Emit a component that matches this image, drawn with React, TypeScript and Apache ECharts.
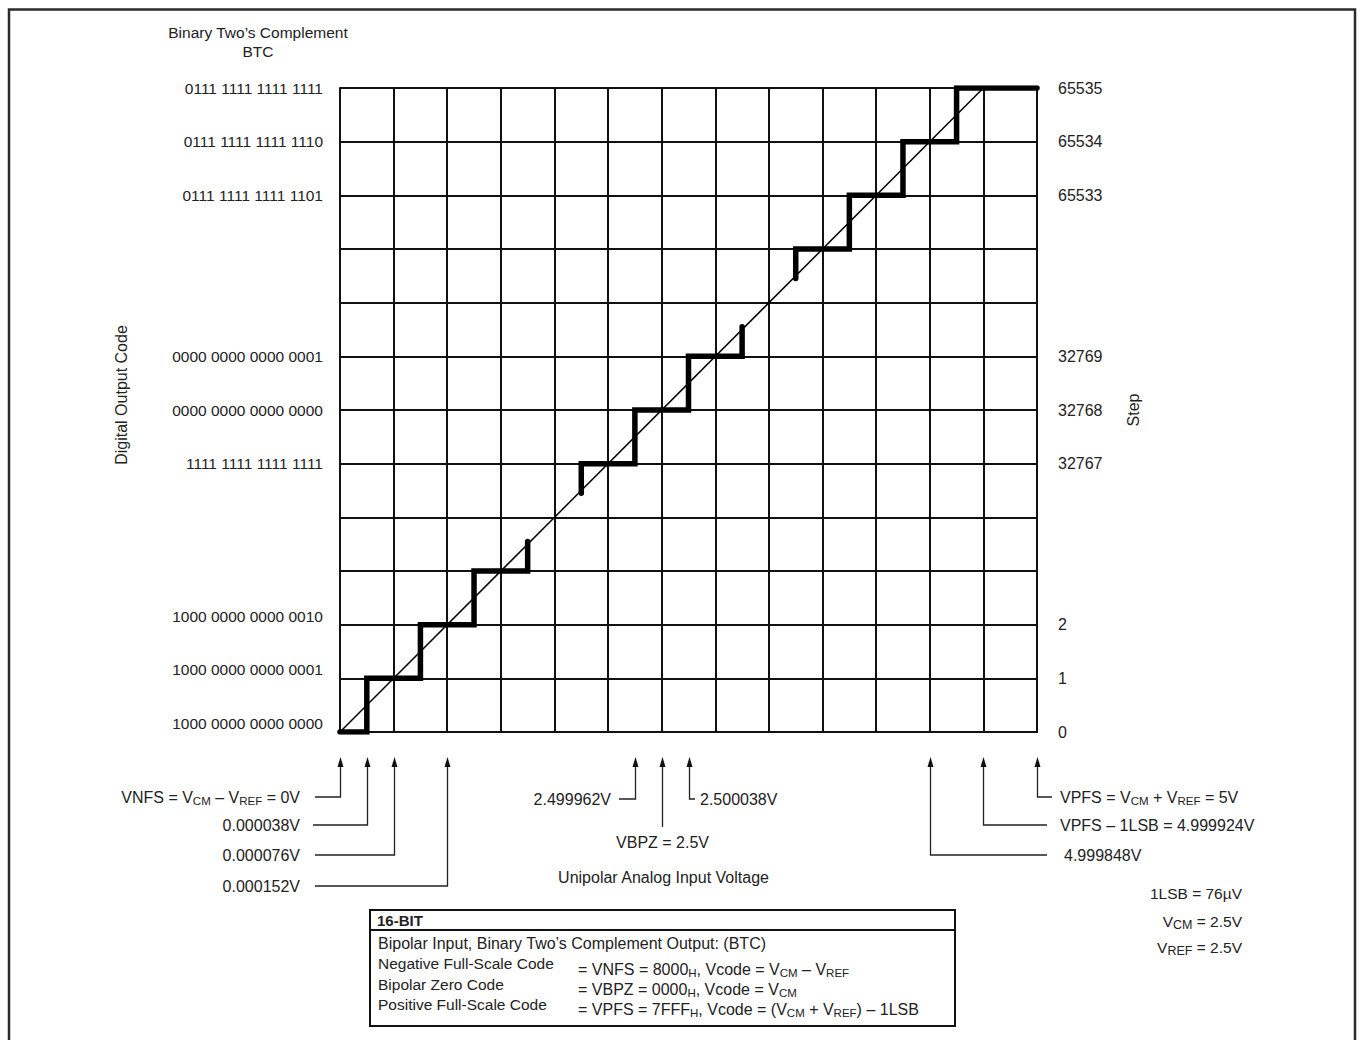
import React, { useEffect, useRef } from 'react';
import * as echarts from 'echarts';

// ---- data ----
const leftCodes = [
  '1000 0000 0000 0000', '1000 0000 0000 0001', '1000 0000 0000 0010', '', '',
  '1111 1111 1111 1111', '0000 0000 0000 0000', '0000 0000 0000 0001', '', '',
  '0111 1111 1111 1101', '0111 1111 1111 1110', '0111 1111 1111 1111',
];
const stepCodes = ['0', '1', '2', '', '', '32767', '32768', '32769', '', '', '65533', '65534', '65535'];
const raisedRows = [0, 1, 2];

const idealLine = [[0, 0], [12, 12]];
const stairLow = [[0, 0], [0.5, 0], [0.5, 1], [1.5, 1], [1.5, 2], [2.5, 2], [2.5, 3], [3.5, 3], [3.5, 3.55]];
const stairMid = [[4.5, 4.45], [4.5, 5], [5.5, 5], [5.5, 6], [6.5, 6], [6.5, 7], [7.5, 7], [7.5, 7.55]];
const stairHigh = [[8.5, 8.45], [8.5, 9], [9.5, 9], [9.5, 10], [10.5, 10], [10.5, 11], [11.5, 11], [11.5, 12], [13, 12]];

const voltageMarks = [0, 0.5, 1, 2, 5.5, 6, 6.5, 11, 12, 13];
const voltageLabels = [
  'VNFS = V{s|CM} – V{s|REF} = 0V',
  '0.000038V',
  '0.000076V',
  '0.000152V',
  '2.499962V',
  'VBPZ = 2.5V',
  '2.500038V',
  '4.999848V',
  'VPFS – 1LSB = 4.999924V',
  'VPFS = V{s|CM} + V{s|REF} = 5V',
];
const constantLabels = ['1LSB = 76µV', 'V{s|CM} = 2.5V', 'V{s|REF} = 2.5V'];

const titleText = 'Binary Two’s Complement\nBTC';
const yNameLeft = 'Digital Output Code';
const yNameRight = 'Step';
const xName = 'Unipolar Analog Input Voltage';

const boxTitle = '16-BIT';
const boxHeading = 'Bipolar Input, Binary Two’s Complement Output: (BTC)';
const codeNames = ['Negative Full-Scale Code', 'Bipolar Zero Code', 'Positive Full-Scale Code'];
const codeDefs = [
  '= VNFS = 8000{s|H}, Vcode = V{s|CM} – V{s|REF}',
  '= VBPZ = 0000{s|H}, Vcode = V{s|CM}',
  '= VPFS = 7FFF{s|H}, Vcode = (V{s|CM} + V{s|REF}) – 1LSB',
];

// ---- layout / style ----
const FONT = '"Liberation Sans", Arial, Helvetica, sans-serif';
const TXT = '#222';
const GRID = '#111';

const markLayout = [
  { elbowY: 797, toX: 315, textX: 300, align: 'right' },
  { elbowY: 825, toX: 313, textX: 300, align: 'right' },
  { elbowY: 855, toX: 315, textX: 300, align: 'right' },
  { elbowY: 886, toX: 315, textX: 300, align: 'right' },
  { elbowY: 799, toX: 619, textX: 611, align: 'right' },
  { elbowY: 827, toX: null, textX: null, align: 'center', textY: 842 },
  { elbowY: 799, toX: 695, textX: 700, align: 'left' },
  { elbowY: 855, toX: 1047, textX: 1064, align: 'left' },
  { elbowY: 825, toX: 1047, textX: 1060, align: 'left' },
  { elbowY: 797, toX: 1052, textX: 1060, align: 'left' },
];

const subRich = {
  s: { fontSize: 11.5, lineHeight: 11, verticalAlign: 'bottom', fontFamily: FONT, fill: TXT },
};
const subRichLarge = {
  s: { fontSize: 12.5, lineHeight: 9, verticalAlign: 'bottom', fontFamily: FONT, fill: TXT },
};

function txt(text: string, x: number, y: number, align: string, extra: any = {}) {
  return {
    type: 'text',
    silent: true,
    style: {
      text,
      x,
      y,
      align,
      verticalAlign: 'middle',
      fontSize: 16,
      lineHeight: 20,
      fontFamily: FONT,
      fill: TXT,
      rich: subRich,
      ...extra,
    },
  };
}

export default function App() {
  const ref = useRef<HTMLDivElement>(null);

  useEffect(() => {
    if (!ref.current) return;
    const chart = echarts.init(ref.current, undefined, { renderer: 'svg' });

    const stairStyle = { color: '#000', width: 5.5, cap: 'round', join: 'miter' };

    chart.setOption({
      animation: false,
      textStyle: { fontFamily: FONT },
      grid: { left: 340, top: 88, width: 697, height: 644, containLabel: false },
      xAxis: {
        type: 'value',
        min: 0,
        max: 13,
        interval: 1,
        name: xName,
        nameLocation: 'middle',
        nameGap: 137,
        nameTextStyle: { fontSize: 16, color: TXT, fontFamily: FONT, padding: [0, 50, 0, 0] },
        axisLine: { show: true, lineStyle: { color: GRID, width: 2 } },
        axisTick: { show: false },
        axisLabel: { show: false },
        splitLine: { show: true, lineStyle: { color: GRID, width: 2 } },
      },
      yAxis: [
        {
          type: 'value',
          position: 'left',
          min: 0,
          max: 12,
          interval: 1,
          name: yNameLeft,
          nameLocation: 'middle',
          nameRotate: 90,
          nameGap: 211,
          nameTextStyle: { fontSize: 16, color: TXT, fontFamily: FONT, padding: [0, 0, 0, 30] },
          axisLine: { show: true, lineStyle: { color: GRID, width: 2 } },
          axisTick: { show: false },
          axisLabel: {
            margin: 17,
            fontSize: 15.5,
            color: TXT,
            fontFamily: FONT,
            formatter: (v: number) => {
              const t = leftCodes[Math.round(v)] || '';
              if (!t) return '';
              return raisedRows.includes(Math.round(v)) ? `{up|${t}}` : t;
            },
            rich: { up: { fontSize: 15.5, color: TXT, fontFamily: FONT, padding: [0, 0, 17, 0] } },
          },
          splitLine: { show: true, lineStyle: { color: GRID, width: 2 } },
        },
        {
          type: 'value',
          position: 'right',
          min: 0,
          max: 12,
          interval: 1,
          name: yNameRight,
          nameLocation: 'middle',
          nameRotate: 90,
          nameGap: 88,
          nameTextStyle: { fontSize: 16, color: TXT, fontFamily: FONT },
          axisLine: { show: true, lineStyle: { color: GRID, width: 2 } },
          axisTick: { show: false },
          axisLabel: {
            margin: 21,
            fontSize: 16,
            color: TXT,
            fontFamily: FONT,
            formatter: (v: number) => stepCodes[Math.round(v)] || '',
          },
          splitLine: { show: false },
        },
      ],
      series: [
        {
          type: 'line',
          name: 'Ideal',
          data: idealLine,
          symbol: 'none',
          lineStyle: { color: '#000', width: 1.5 },
          silent: true,
        },
        { type: 'line', name: 'Low codes', data: stairLow, symbol: 'none', lineStyle: stairStyle, silent: true },
        { type: 'line', name: 'Mid codes', data: stairMid, symbol: 'none', lineStyle: stairStyle, silent: true },
        { type: 'line', name: 'High codes', data: stairHigh, symbol: 'none', lineStyle: stairStyle, silent: true },
      ],
    });

    const graphics: any[] = [];
    // outer frame
    graphics.push({
      type: 'rect',
      silent: true,
      shape: { x: 9, y: 9.5, width: 1346, height: 1100 },
      style: { fill: 'none', stroke: '#2b2b2b', lineWidth: 2.5 },
    });
    // title
    graphics.push(txt(titleText, 258, 42, 'center', { lineHeight: 19, fontSize: 15.5 }));

    // voltage arrows
    const tipY = 757;
    voltageMarks.forEach((v, i) => {
      const p = chart.convertToPixel({ xAxisIndex: 0, yAxisIndex: 0 }, [v, 0]) as number[];
      const x = Math.round(p[0]) + 0.5;
      const L = markLayout[i];
      const pts: number[][] = [[x, tipY + 8], [x, L.elbowY]];
      if (L.toX != null) pts.push([L.toX, L.elbowY]);
      graphics.push({
        type: 'polyline',
        silent: true,
        shape: { points: pts },
        style: { stroke: '#222', lineWidth: 1.3, fill: 'none' },
      });
      graphics.push({
        type: 'polygon',
        silent: true,
        shape: { points: [[x, tipY], [x - 3, tipY + 10], [x + 3, tipY + 10]] },
        style: { fill: '#111' },
      });
      if (L.align === 'center') {
        graphics.push(txt(voltageLabels[i], x, L.textY as number, 'center'));
      } else {
        graphics.push(txt(voltageLabels[i], L.textX as number, L.elbowY, L.align));
      }
    });

    // constants
    const constY = [893, 921, 947];
    constantLabels.forEach((t, i) =>
      graphics.push(txt(t, 1242, constY[i], 'right', { fontSize: 15.5, rich: subRichLarge }))
    );

    // info box
    graphics.push({
      type: 'rect',
      silent: true,
      shape: { x: 370, y: 910, width: 585, height: 116 },
      style: { fill: 'none', stroke: '#111', lineWidth: 2 },
    });
    graphics.push({
      type: 'line',
      silent: true,
      shape: { x1: 370, y1: 930, x2: 955, y2: 930 },
      style: { stroke: '#111', lineWidth: 2 },
    });
    graphics.push(txt(boxTitle, 377, 920, 'left', { fontWeight: 'bold', fontSize: 15 }));
    graphics.push(txt(boxHeading, 378, 943, 'left'));
    const nameY = [963, 984, 1004];
    const defY = [969, 989, 1009];
    codeNames.forEach((t, i) => graphics.push(txt(t, 378, nameY[i], 'left', { fontSize: 15.5 })));
    codeDefs.forEach((t, i) => graphics.push(txt(t, 578, defY[i], 'left')));

    chart.setOption({ graphic: graphics });

    return () => chart.dispose();
  }, []);

  return (
    <div
      ref={ref}
      style={{ position: 'absolute', left: 0, top: 0, width: 1361, height: 1040, background: '#fff' }}
    />
  );
}
